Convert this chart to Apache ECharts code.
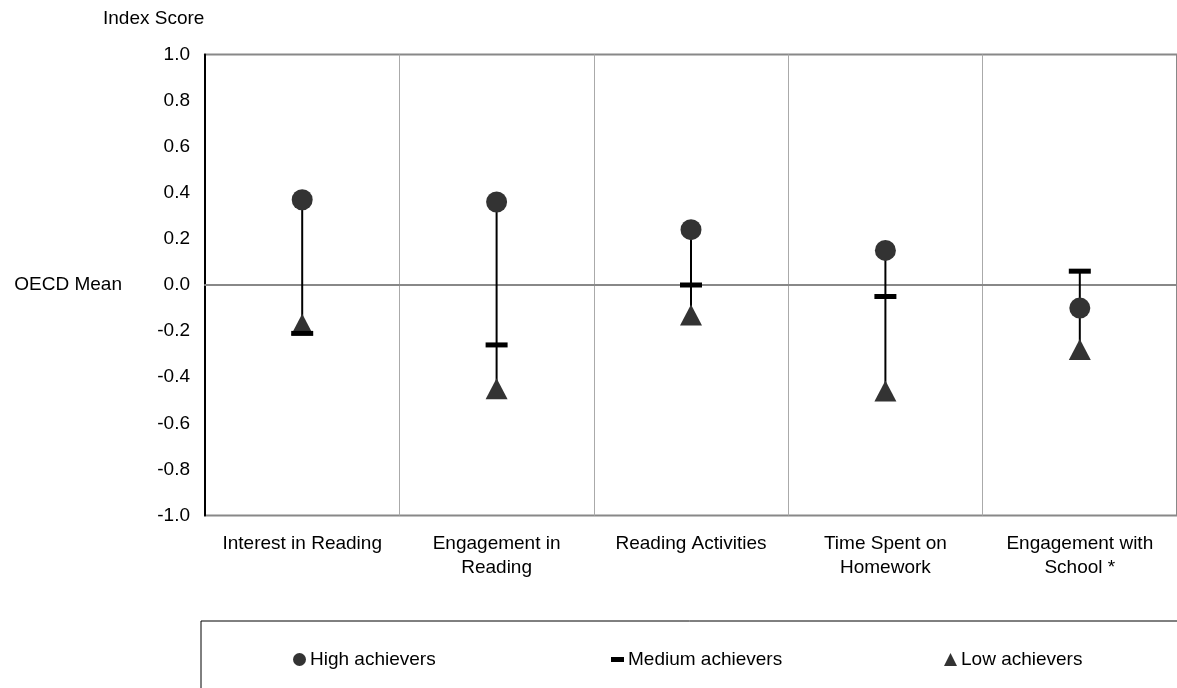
<!DOCTYPE html>
<html>
<head>
<meta charset="utf-8">
<script src="https://cdn.jsdelivr.net/npm/echarts@6/dist/echarts.min.js"></script>
<style>
html,body{margin:0;padding:0;background:#fff;}
#chart{width:1177px;height:688px;}
</style>
</head>
<body>
<div id="chart"></div>
<script>
const categories = ["Interest in Reading", "Engagement in\nReading", "Reading Activities", "Time Spent on\nHomework", "Engagement with\nSchool *"];
const highAchievers = [0.37, 0.36, 0.24, 0.15, -0.10];
const mediumAchievers = [-0.21, -0.26, 0.00, -0.05, 0.06];
const lowAchievers = [-0.17, -0.45, -0.13, -0.46, -0.28];
const yMin = -1.0, yMax = 1.0, yStep = 0.2;
const oecdMean = 0;

const FONT = '"Liberation Sans", Arial, sans-serif';
const FS = 19;

const rangeData = categories.map((c, i) => {
  const vals = [highAchievers[i], mediumAchievers[i], lowAchievers[i]];
  return [i, Math.min.apply(null, vals), Math.max.apply(null, vals)];
});

const chart = echarts.init(document.getElementById('chart'), null, {renderer: 'canvas'});
const dashIcon = 'path://M0,0h13v5h-13z';

const legendBase = {
  orient: 'horizontal',
  top: 645,
  itemWidth: 13,
  itemHeight: 13,
  itemGap: 0,
  textStyle: {color: '#000', fontSize: FS, fontFamily: FONT, padding: [0, 0, 0, -1]},
  selectedMode: false
};

chart.setOption({
  animation: false,
  backgroundColor: '#fff',
  textStyle: {fontFamily: FONT},
  grid: {left: 205, right: 0, top: 54.5, bottom: 172.5, show: true, borderColor: '#888', borderWidth: 2},
  xAxis: {
    type: 'category',
    data: categories,
    boundaryGap: true,
    axisLine: {show: true, lineStyle: {color: '#888', width: 2}},
    axisTick: {show: false},
    splitLine: {show: true, lineStyle: {color: '#aaa', width: 1}},
    axisLabel: {interval: 0, color: '#000', fontSize: FS, fontFamily: FONT, lineHeight: 24, margin: 16}
  },
  yAxis: {
    type: 'value',
    min: yMin, max: yMax, interval: yStep,
    axisLine: {show: true, lineStyle: {color: '#000', width: 2}},
    axisTick: {show: false},
    splitLine: {show: false},
    axisLabel: {color: '#000', fontSize: FS, fontFamily: FONT, margin: 15,
      formatter: v => (Math.abs(v) < 1e-9 ? 0 : v).toFixed(1)}
  },
  legend: [
    Object.assign({}, legendBase, {left: 288, data: [{name: 'High achievers', icon: 'circle'}]}),
    Object.assign({}, legendBase, {left: 606, data: [{name: 'Medium achievers', icon: dashIcon}]}),
    Object.assign({}, legendBase, {left: 939, data: [{name: 'Low achievers', icon: 'triangle'}]})
  ],
  graphic: [
    {type: 'text', left: 103, top: 9, style: {text: 'Index Score', fill: '#000', font: FS + 'px ' + FONT}},
    {type: 'text', x: 122, y: 285, style: {text: 'OECD Mean', fill: '#000', font: FS + 'px ' + FONT, textAlign: 'right', textVerticalAlign: 'middle'}},
    {type: 'rect', shape: {x: 201, y: 621, width: 1100, height: 200}, style: {fill: 'none', stroke: '#000', lineWidth: 1}, z: -1}
  ],
  series: [
    {
      type: 'line',
      name: 'zero',
      data: [],
      z: 0,
      silent: true,
      markLine: {
        silent: true, symbol: 'none', label: {show: false}, z: 0,
        lineStyle: {color: '#aaa', width: 1, type: 'solid'},
        data: [{yAxis: oecdMean}]
      }
    },
    {
      type: 'custom',
      name: 'range',
      data: rangeData,
      encode: {x: 0, y: [1, 2]},
      silent: true,
      z: 2,
      renderItem: function (params, api) {
        const p1 = api.coord([api.value(0), api.value(1)]);
        const p2 = api.coord([api.value(0), api.value(2)]);
        return {type: 'line', shape: {x1: p1[0], y1: p1[1], x2: p2[0], y2: p2[1]}, style: {stroke: '#000', lineWidth: 2}};
      }
    },
    {name: 'High achievers', type: 'scatter', data: highAchievers, symbol: 'circle', symbolSize: 21, itemStyle: {color: '#333', opacity: 1}, z: 5},
    {name: 'Low achievers', type: 'scatter', data: lowAchievers, symbol: 'triangle', symbolSize: [22, 21], itemStyle: {color: '#333', opacity: 1}, z: 5},
    {name: 'Medium achievers', type: 'scatter', data: mediumAchievers, symbol: 'rect', symbolSize: [22, 5], itemStyle: {color: '#000', opacity: 1}, z: 6}
  ]
});
</script>
</body>
</html>
